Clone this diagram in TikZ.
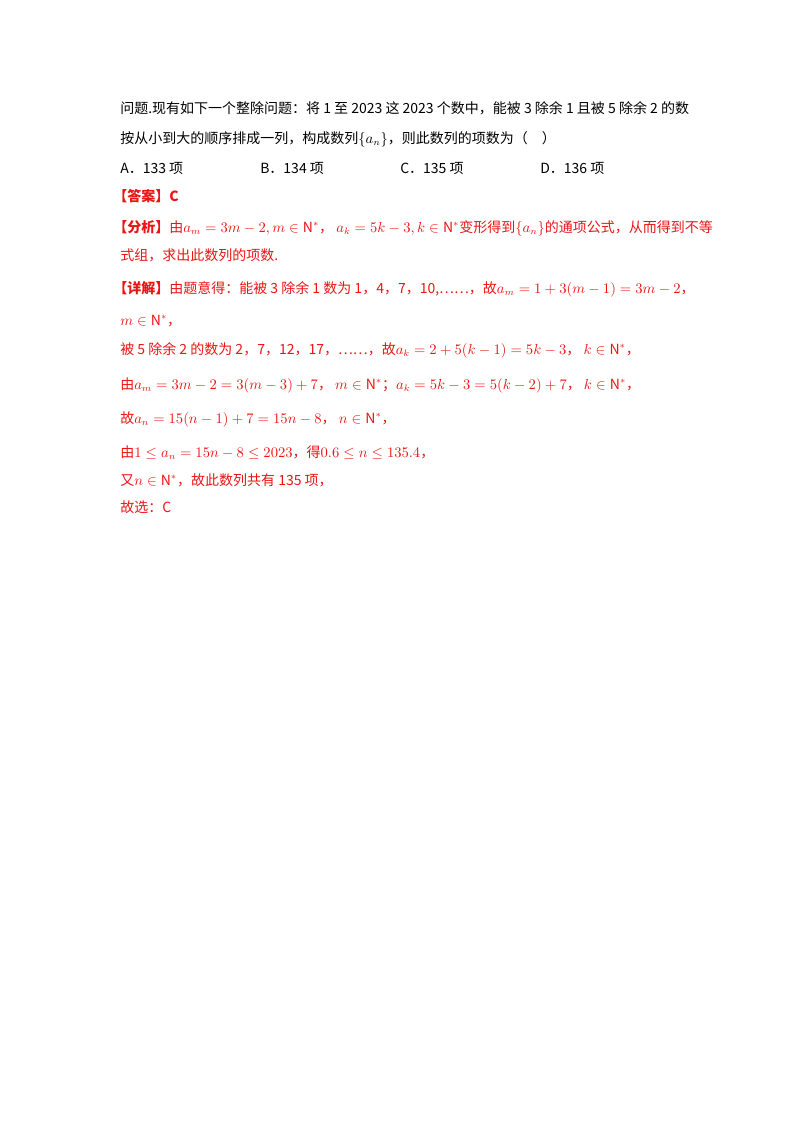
\documentclass[tikz,border=0pt]{standalone}
\usepackage{fontspec}
\usepackage{amssymb}
\setmainfont{Noto Sans CJK SC}
\definecolor{rd}{RGB}{235,20,20}
\begin{document}
\begin{tikzpicture}[x=0.75pt,y=-0.75pt,
  t/.style={anchor=base west,inner sep=0pt,font=\fontsize{10.5pt}{12pt}\selectfont},
  r/.style={t,text=rd}]
\useasboundingbox (0,0) rectangle (800,1132);
\node[t] (l1) at (120,113) {问题.现有如下一个整除问题：将 1 至 2023 这 2023 个数中，能被 3 除余 1 且被 5 除余 2 的数};
\node[t] (l2) at (120,143) {按从小到大的顺序排成一列，构成数列$\{a_n\}$，则此数列的项数为（\quad ）};
\node[t] (a) at (120,173) {A．133 项};
\node[t] (b) at (260,173) {B．134 项};
\node[t] (c) at (400,173) {C．135 项};
\node[t] (d) at (540,173) {D．136 项};
\node[r] (ans) at (113,201) {\bfseries【答案】C};
\node[r] (f1) at (113,232) {\textbf{【分析】}由$a_m=3m-2,m\in\mathrm{N}^*$，\ $a_k=5k-3,k\in\mathrm{N}^*$变形得到$\{a_n\}$的通项公式，从而得到不等};
\node[r] (f2) at (120,260) {式组，求出此数列的项数.};
\node[r] (x1) at (113,293) {\textbf{【详解】}由题意得：能被 3 除余 1 数为 1，4，7，10,……，故$a_m=1+3(m-1)=3m-2$，};
\node[r] (x2) at (120,325) {$m\in\mathrm{N}^*$，};
\node[r] (x3) at (120,354) {被 5 除余 2 的数为 2，7，12，17，……，故$a_k=2+5(k-1)=5k-3$，\ $k\in\mathrm{N}^*$，};
\node[r] (x4) at (120,389) {由$a_m=3m-2=3(m-3)+7$，\ $m\in\mathrm{N}^*$；$a_k=5k-3=5(k-2)+7$，\ $k\in\mathrm{N}^*$，};
\node[r] (x5) at (120,423) {故$a_n=15(n-1)+7=15n-8$，\ $n\in\mathrm{N}^*$，};
\node[r] (x6) at (120,457) {由$1\le a_n=15n-8\le2023$，得$0.6\le n\le135.4$，};
\node[r] (x7) at (120,485) {又$n\in\mathrm{N}^*$，故此数列共有 135 项，};
\node[r] (x8) at (120,512) {故选：C};
\end{tikzpicture}
\end{document}
